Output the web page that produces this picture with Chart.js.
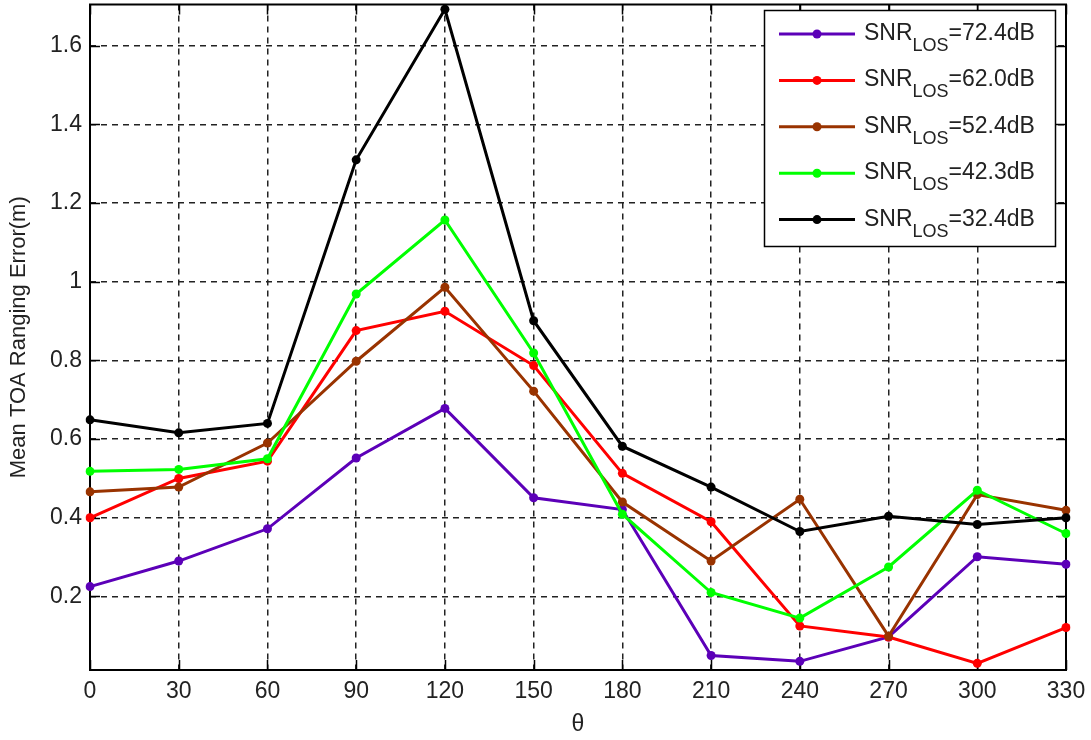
<!DOCTYPE html>
<html>
<head>
<meta charset="utf-8">
<title>Mean TOA Ranging Error</title>
<script src="https://cdn.jsdelivr.net/npm/chart.js@4.4.1/dist/chart.umd.min.js"></script>
<style>
    html, body { margin: 0; padding: 0; background: #fff; }
    #contenedor { width: 1091px; height: 740px; position: relative; }
</style>
</head>
<body>
<div id="contenedor"><canvas id="graficaTOA"></canvas></div>
<script>
// Ángulos (grados) y error medio por SNR
const thetas = [0, 30, 60, 90, 120, 150, 180, 210, 240, 270, 300, 330];
const snrLos = ['72.4', '62.0', '52.4', '42.3', '32.4'];
const err724 = [0.225, 0.29, 0.372, 0.552, 0.678, 0.451, 0.421, 0.05, 0.035, 0.097, 0.301, 0.282];
const err620 = [0.40, 0.50, 0.544, 0.876, 0.925, 0.787, 0.513, 0.39, 0.125, 0.097, 0.03, 0.121];
const err524 = [0.466, 0.478, 0.59, 0.798, 0.986, 0.722, 0.44, 0.29, 0.447, 0.099, 0.459, 0.419];
const err423 = [0.518, 0.523, 0.55, 0.969, 1.157, 0.819, 0.409, 0.21, 0.145, 0.275, 0.47, 0.36];
const err324 = [0.649, 0.616, 0.64, 1.31, 1.693, 0.901, 0.582, 0.478, 0.365, 0.404, 0.383, 0.40];
const yTicks = [0.2, 0.4, 0.6, 0.8, 1.0, 1.2, 1.4, 1.6];

(function() {
    const FUENTE = '"Liberation Sans", Arial, sans-serif';
    const colores = ['#5c00b8', '#ff0000', '#993300', '#00ff00', '#000000'];
    const series = [err724, err620, err524, err423, err324];

    // Marco del eje con marcas hacia dentro (estilo MATLAB)
    const marcoEjes = {
        id: 'marcoEjes',
        beforeDatasetsDraw(chart) {
            const { ctx, chartArea: a, scales } = chart;
            ctx.save();
            ctx.strokeStyle = '#000';
            ctx.lineWidth = 1.5;
            ctx.beginPath();
            yTicks.forEach(v => {
                const y = Math.round(scales.y.getPixelForValue(v)) + 0.5;
                ctx.moveTo(a.left, y); ctx.lineTo(a.left + 10, y);
                ctx.moveTo(a.right, y); ctx.lineTo(a.right - 10, y);
            });
            thetas.forEach((t, i) => {
                const x = Math.round(scales.x.getPixelForValue(i)) + 0.5;
                ctx.moveTo(x, a.bottom); ctx.lineTo(x, a.bottom - 10);
                ctx.moveTo(x, a.top); ctx.lineTo(x, a.top + 10);
            });
            ctx.stroke();
            ctx.lineWidth = 2;
            ctx.strokeRect(a.left, a.top, a.right - a.left, a.bottom - a.top);
            ctx.restore();
        }
    };

    // Leyenda con subíndice LOS
    const leyendaSNR = {
        id: 'leyendaSNR',
        afterDatasetsDraw(chart) {
            const { ctx } = chart;
            ctx.save();
            ctx.fillStyle = '#fff';
            ctx.fillRect(764, 10, 292, 237);
            ctx.strokeStyle = '#000';
            ctx.lineWidth = 1.5;
            ctx.strokeRect(764.5, 10.5, 291, 236);
            chart.data.datasets.forEach((ds, i) => {
                const y = 34 + i * 46.4;
                ctx.strokeStyle = ds.borderColor;
                ctx.lineWidth = 3;
                ctx.beginPath();
                ctx.moveTo(779, y);
                ctx.lineTo(855, y);
                ctx.stroke();
                ctx.fillStyle = ds.borderColor;
                ctx.beginPath();
                ctx.arc(817, y, 4.5, 0, Math.PI * 2);
                ctx.fill();

                ctx.fillStyle = '#222';
                ctx.textBaseline = 'alphabetic';
                ctx.font = '23px ' + FUENTE;
                ctx.fillText('SNR', 864, y + 6);
                let x = 864 + ctx.measureText('SNR').width;
                ctx.font = '18px ' + FUENTE;
                ctx.fillText('LOS', x, y + 17);
                x += ctx.measureText('LOS').width;
                ctx.font = '23px ' + FUENTE;
                ctx.fillText('=' + snrLos[i] + 'dB', x, y + 6);
            });
            ctx.restore();
        }
    };

    const renderChart = () => {
        const ctx = document.getElementById('graficaTOA');
        if (!ctx) {
            console.error("No se encontró el canvas 'graficaTOA'");
            return;
        }

        new Chart(ctx, {
            type: 'line',
            data: {
                labels: thetas.map(String),
                datasets: series.map((datos, i) => ({
                    label: 'SNR_LOS=' + snrLos[i] + 'dB',
                    data: datos,
                    borderColor: colores[i],
                    backgroundColor: colores[i],
                    borderWidth: 3,
                    pointRadius: 4.5,
                    pointBorderWidth: 0,
                    pointBackgroundColor: colores[i],
                    tension: 0,
                    order: series.length - i
                }))
            },
            options: {
                responsive: true,
                maintainAspectRatio: false,
                animation: false,
                events: [],
                layout: { padding: { top: 1, right: 25, left: 0, bottom: 0 } },
                plugins: {
                    legend: { display: false },
                    tooltip: { enabled: false }
                },
                scales: {
                    x: {
                        type: 'category',
                        offset: false,
                        grid: { color: '#222', lineWidth: 1.5, drawTicks: false },
                        border: { display: false, dash: [6, 5] },
                        ticks: {
                            color: '#222',
                            padding: 8,
                            maxRotation: 0,
                            autoSkip: false,
                            font: { family: FUENTE, size: 23 }
                        },
                        title: {
                            display: true,
                            text: 'θ',
                            color: '#222',
                            padding: { top: 0, bottom: 2 },
                            font: { family: FUENTE, size: 23 }
                        },
                        afterFit: s => { s.height = 70; s.paddingLeft = 0; s.paddingRight = 0; }
                    },
                    y: {
                        min: 0.013,
                        max: 1.705,
                        grid: { color: '#222', lineWidth: 1.5, drawTicks: false },
                        border: { display: false, dash: [6, 5] },
                        afterBuildTicks: s => { s.ticks = yTicks.map(v => ({ value: v })); },
                        ticks: {
                            color: '#222',
                            padding: 8,
                            font: { family: FUENTE, size: 23 },
                            callback: v => String(+v.toFixed(1))
                        },
                        title: {
                            display: true,
                            text: 'Mean TOA Ranging Error(m)',
                            color: '#222',
                            padding: { top: 6, bottom: 0 },
                            font: { family: FUENTE, size: 22 }
                        },
                        afterFit: s => { s.width = 90; s.paddingTop = 0; s.paddingBottom = 0; }
                    }
                }
            },
            plugins: [marcoEjes, leyendaSNR]
        });
    };

    if (document.readyState === 'complete') {
        renderChart();
    } else {
        window.addEventListener('load', renderChart);
    }
})();
</script>
</body>
</html>
